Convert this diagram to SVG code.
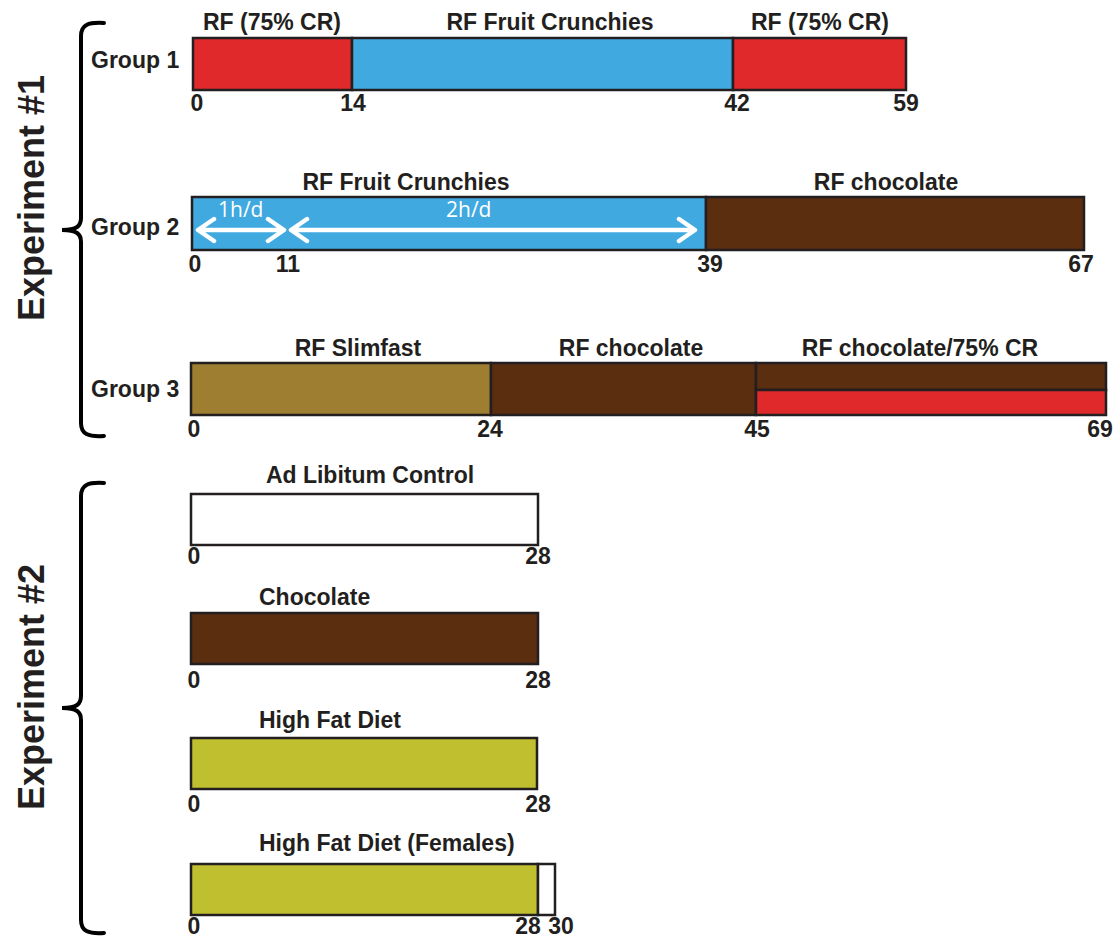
<svg xmlns="http://www.w3.org/2000/svg" width="1117" height="937" viewBox="0 0 1117 937">
<style>
  .lbl { font-family: "Liberation Sans", Arial, sans-serif; font-weight: bold; font-size: 23px; fill: #231f20; }
  .mid { text-anchor: middle; }
  .exp { font-family: "Liberation Sans", Arial, sans-serif; font-weight: bold; font-size: 36px; fill: #231f20; text-anchor: middle; }
  .seg { stroke: #231f20; stroke-width: 2.5; }
  .red { fill: #e0292a; }
  .blue { fill: #3fa9e0; }
  .brown { fill: #5c2e10; }
  .slim { fill: #9e7e30; }
  .hfd { fill: #bfbf30; }
  .white { fill: #ffffff; }
  .brace { fill: none; stroke: #000; stroke-width: 4; stroke-linecap: round; }
  .arr { fill: none; stroke: #ffffff; stroke-width: 4.5; stroke-linecap: round; stroke-linejoin: round; }
  .hd { font-family: "Open Sans", "Noto Sans", sans-serif; font-size: 21px; fill: #ffffff; }
</style>

<g id="experiment1">
  <path class="brace" d="M104,23 C88,22 81,25 81,36 V218 C81,226 77,230 62,230 C77,230 81,234 81,242 V423 C81,434 88,437 104,436"/>
  <text class="exp" transform="translate(44,198) rotate(-90)">Experiment #1</text>
</g>

<g id="group1">
  <text class="lbl" x="91" y="68">Group 1</text>
  <rect class="seg red" x="193" y="38" width="159" height="52"/>
  <rect class="seg blue" x="352" y="38" width="381" height="52"/>
  <rect class="seg red" x="733" y="38" width="173" height="52"/>
  <text class="lbl mid" x="272" y="30">RF (75% CR)</text>
  <text class="lbl mid" x="550" y="30">RF Fruit Crunchies</text>
  <text class="lbl mid" x="820" y="30">RF (75% CR)</text>
  <text class="lbl mid" x="197" y="111">0</text>
  <text class="lbl mid" x="353" y="111">14</text>
  <text class="lbl mid" x="737" y="111">42</text>
  <text class="lbl mid" x="906" y="111">59</text>
</g>

<g id="group2">
  <text class="lbl" x="91" y="235">Group 2</text>
  <rect class="seg blue" x="192" y="197" width="514" height="53"/>
  <rect class="seg brown" x="706" y="197" width="378" height="53"/>
  <text class="lbl mid" x="406" y="190">RF Fruit Crunchies</text>
  <text class="lbl mid" x="886" y="190">RF chocolate</text>
  <text class="hd" x="218" y="217">1h/d</text>
  <text class="hd" x="446" y="217">2h/d</text>
  <text class="lbl mid" x="195" y="272">0</text>
  <text class="lbl mid" x="288" y="272">11</text>
  <text class="lbl mid" x="710" y="272">39</text>
  <text class="lbl mid" x="1081" y="272">67</text>
</g>

<g id="group3">
  <text class="lbl" x="91" y="397">Group 3</text>
  <rect class="seg slim" x="191" y="363" width="300" height="52"/>
  <rect class="seg brown" x="491" y="363" width="265" height="52"/>
  <rect class="seg brown" x="756" y="363" width="350" height="27"/>
  <rect class="seg red" x="756" y="390" width="350" height="25"/>
  <text class="lbl mid" x="358" y="356">RF Slimfast</text>
  <text class="lbl mid" x="631" y="356">RF chocolate</text>
  <text class="lbl mid" x="920" y="356">RF chocolate/75% CR</text>
  <text class="lbl mid" x="194" y="437">0</text>
  <text class="lbl mid" x="490" y="437">24</text>
  <text class="lbl mid" x="757" y="437">45</text>
  <text class="lbl mid" x="1100" y="437">69</text>
</g>

<g id="experiment2">
  <path class="brace" d="M104,483 C88,482 81,485 81,496 V696 C81,704 77,708 62,708 C77,708 81,712 81,720 V920 C81,931 88,934 104,933"/>
  <text class="exp" transform="translate(44,687) rotate(-90)">Experiment #2</text>
</g>

<g id="adlib">
  <text class="lbl mid" x="370" y="483">Ad Libitum Control</text>
  <rect class="seg white" x="191" y="494" width="347" height="51"/>
  <text class="lbl mid" x="194" y="564">0</text>
  <text class="lbl mid" x="538" y="564">28</text>
</g>

<g id="chocolate">
  <text class="lbl" x="259" y="605">Chocolate</text>
  <rect class="seg brown" x="191" y="613" width="347" height="51"/>
  <text class="lbl mid" x="194" y="688">0</text>
  <text class="lbl mid" x="538" y="688">28</text>
</g>

<g id="hfd">
  <text class="lbl" x="259" y="728">High Fat Diet</text>
  <rect class="seg hfd" x="191" y="738" width="346" height="51"/>
  <text class="lbl mid" x="194" y="812">0</text>
  <text class="lbl mid" x="538" y="812">28</text>
</g>

<g id="hfd-females">
  <text class="lbl" x="259" y="851">High Fat Diet (Females)</text>
  <rect class="seg hfd" x="191" y="864" width="347" height="51"/>
  <rect class="seg white" x="538" y="864" width="17" height="51"/>
  <text class="lbl mid" x="194" y="934">0</text>
  <text class="lbl mid" x="528" y="934">28</text>
  <text class="lbl mid" x="561" y="934">30</text>
</g>

<g id="connectors">
  <path class="arr" d="M199,230 H283 M214,219 L198,230 L214,241 M268,219 L284,230 L268,241"/>
  <path class="arr" d="M292,230 H694 M307,219 L291,230 L307,241 M679,219 L695,230 L679,241"/>
</g>
</svg>
